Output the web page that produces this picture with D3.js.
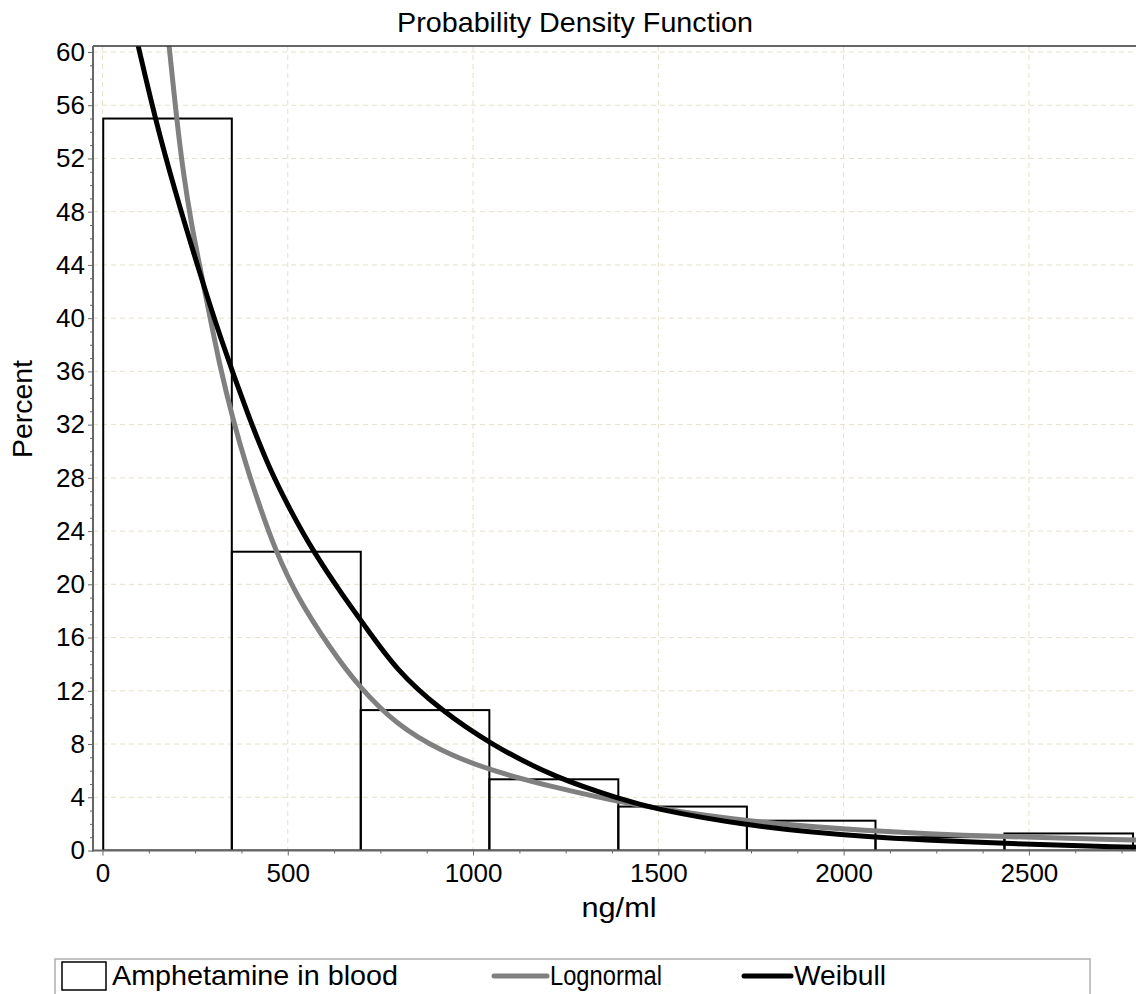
<!DOCTYPE html>
<html>
<head>
<meta charset="utf-8">
<script src="https://cdn.jsdelivr.net/npm/d3@7"></script>
<style>
  body { margin: 0; background: #fff; }
  text { font-family: "Liberation Sans", Arial, sans-serif; fill: #000; }
</style>
</head>
<body>
<svg id="chart" width="1136" height="994"></svg>
<script>
// histogram bins (ng/ml) and bar heights (percent)
const binEdges = [2, 349, 697, 1044, 1392, 1739, 2086, 2434, 2781];
const barPercent = [55.0, 22.45, 10.55, 5.35, 3.3, 2.24, 1.0, 1.28];

// fitted curves: [ng/ml, percent]
const lognormal = [
  [180, 60.4], [200, 55.0], [218, 50.9], [241, 46.9], [259, 44.4], [277, 41.9],
  [317, 36.3], [353, 32.3], [389, 28.8], [425, 25.8], [466, 22.6], [524, 19.1],
  [614, 15.2], [695, 12.2], [794, 9.45], [911, 7.5], [1046, 6.0], [1226, 4.7],
  [1379, 3.75], [1478, 3.25], [1739, 2.16], [2044, 1.5], [2423, 1.02], [2781, 0.79],
  [2800, 0.78]
];
const weibull = [
  [96, 60.5], [142, 55.0], [196, 49.5], [259, 43.7], [317, 38.6], [398, 32.3],
  [452, 28.6], [506, 25.6], [569, 22.45], [650, 19.1], [700, 17.2], [794, 13.5],
  [911, 10.6], [1046, 8.0], [1226, 5.4], [1406, 3.8], [1478, 3.2], [1739, 1.84],
  [2044, 1.02], [2423, 0.52], [2781, 0.24], [2800, 0.23]
];

const xTicks = [0, 500, 1000, 1500, 2000, 2500];
const yTicks = d3.range(0, 61, 4);

const svg = d3.select("#chart");
const plotL = 93, plotR = 1136, plotT = 46, plotB = 850.5;
const fontSize = 26;

const x = d3.scaleLinear().domain([-25.6, 2789]).range([plotL, plotR]);
const y = d3.scaleLinear().domain([0, 60.45]).range([plotB, plotT]);

svg.append("clipPath").attr("id", "plotClip")
  .append("rect").attr("x", plotL).attr("y", plotT)
  .attr("width", plotR - plotL).attr("height", plotB - plotT);

// grid
const grid = svg.append("g").attr("stroke", "#e6e1c8").attr("stroke-width", 1)
  .attr("stroke-dasharray", "5,4");
grid.selectAll(".gx").data(xTicks).join("line")
  .attr("x1", d => x(d)).attr("x2", d => x(d))
  .attr("y1", plotT).attr("y2", plotB);
grid.selectAll(".gy").data(yTicks.filter(d => d > 0)).join("line")
  .attr("x1", plotL).attr("x2", plotR)
  .attr("y1", d => y(d)).attr("y2", d => y(d));

// bars
const bars = barPercent.map((v, i) => ({x0: binEdges[i], x1: binEdges[i + 1], v}));
svg.append("g").attr("clip-path", "url(#plotClip)")
  .selectAll("rect").data(bars).join("rect")
  .attr("x", d => x(d.x0)).attr("y", d => y(d.v))
  .attr("width", d => x(d.x1) - x(d.x0)).attr("height", d => plotB - y(d.v))
  .attr("fill", "none").attr("stroke", "#000").attr("stroke-width", 2);

// curves
const line = d3.line().x(d => x(d[0])).y(d => y(d[1])).curve(d3.curveBasis);
const curves = svg.append("g").attr("clip-path", "url(#plotClip)").attr("fill", "none")
  .attr("stroke-width", 5).attr("stroke-linecap", "round");
curves.append("path").datum(lognormal).attr("d", line).attr("stroke", "#808080");
curves.append("path").datum(weibull).attr("d", line).attr("stroke", "#000");

// axes
svg.append("g").attr("transform", `translate(${plotL},0)`)
  .call(d3.axisLeft(y).tickValues(yTicks).tickSize(5).tickPadding(3));
svg.append("g").attr("transform", `translate(${plotL},0)`)
  .call(d3.axisLeft(y).tickValues(d3.range(0, 61).filter(d => d % 4)).tickSize(3).tickFormat(""));
svg.append("g").attr("transform", `translate(0,${plotB})`)
  .call(d3.axisBottom(x).tickValues(xTicks).tickSize(5).tickPadding(8).tickFormat(d3.format("d")));
svg.append("g").attr("transform", `translate(0,${plotB})`)
  .call(d3.axisBottom(x).tickValues(d3.range(125, 2790, 125).filter(d => d % 500)).tickSize(3).tickFormat(""));

svg.selectAll(".domain").remove();
svg.selectAll(".tick line").attr("stroke", "#666");
svg.selectAll(".tick text").attr("font-size", fontSize).attr("font-family", null);

// frame
svg.append("line").attr("x1", plotL).attr("x2", plotR + 5).attr("y1", plotT).attr("y2", plotT)
  .attr("stroke", "#333").attr("stroke-width", 1.5);
svg.append("line").attr("x1", plotL).attr("x2", plotL).attr("y1", plotT).attr("y2", plotB + 1)
  .attr("stroke", "#666").attr("stroke-width", 2);
svg.append("line").attr("x1", plotL - 1).attr("x2", plotR + 5).attr("y1", plotB).attr("y2", plotB)
  .attr("stroke", "#666").attr("stroke-width", 2);

// titles
function label(sel, str, len) {
  return sel.text(str).attr("textLength", len).attr("lengthAdjust", "spacingAndGlyphs");
}
label(svg.append("text").attr("x", 575).attr("y", 32).attr("text-anchor", "middle")
  .attr("font-size", 28), "Probability Density Function", 356);
label(svg.append("text").attr("x", 619).attr("y", 917).attr("text-anchor", "middle")
  .attr("font-size", 28), "ng/ml", 75);
label(svg.append("text").attr("transform", "translate(32,409) rotate(-90)").attr("text-anchor", "middle")
  .attr("font-size", 28), "Percent", 98);

// legend
const legend = svg.append("g");
legend.append("rect").attr("x", 55).attr("y", 959).attr("width", 1035).attr("height", 60)
  .attr("fill", "none").attr("stroke", "#b0b0b0").attr("stroke-width", 1.5);
legend.append("rect").attr("x", 62).attr("y", 962).attr("width", 44).attr("height", 28)
  .attr("fill", "#fff").attr("stroke", "#000").attr("stroke-width", 1.5);
label(legend.append("text").attr("x", 112).attr("y", 985).attr("font-size", 28), "Amphetamine in blood", 286);
legend.append("line").attr("x1", 494).attr("x2", 547).attr("y1", 976).attr("y2", 976)
  .attr("stroke", "#808080").attr("stroke-width", 5).attr("stroke-linecap", "round");
label(legend.append("text").attr("x", 550).attr("y", 985).attr("font-size", 28), "Lognormal", 112);
legend.append("line").attr("x1", 744).attr("x2", 791).attr("y1", 976).attr("y2", 976)
  .attr("stroke", "#000").attr("stroke-width", 5).attr("stroke-linecap", "round");
label(legend.append("text").attr("x", 794).attr("y", 985).attr("font-size", 28), "Weibull", 92);
</script>
</body>
</html>
